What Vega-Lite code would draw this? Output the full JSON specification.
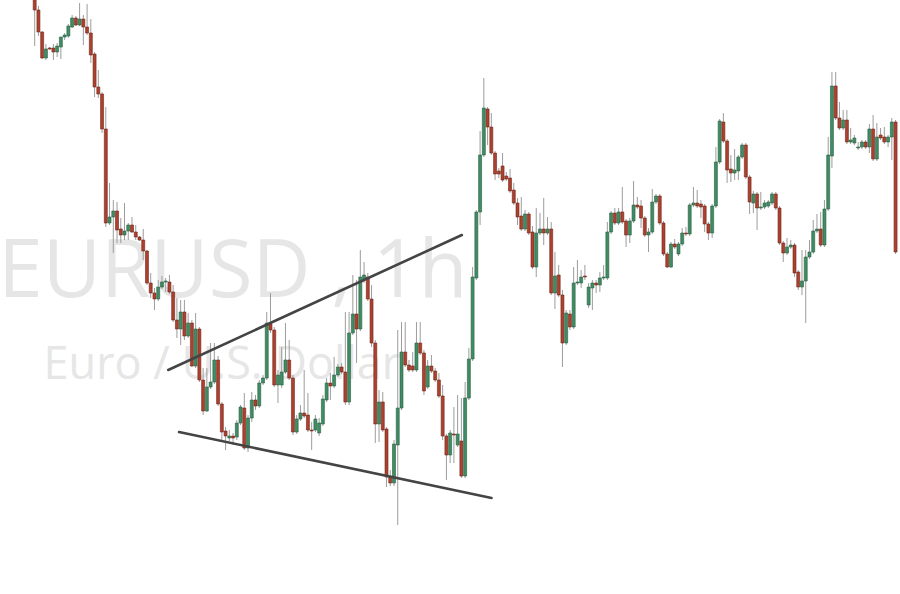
{
  "$schema": "https://vega.github.io/schema/vega-lite/v6.json",
  "width": 900,
  "height": 594,
  "autosize": {"type": "none"},
  "padding": 0,
  "background": "#ffffff",
  "config": {"view": {"stroke": null}},
  "datasets": {
    "candles": [
{"t":0,"o":1.1108,"h":1.1115,"l":1.1054,"c":1.1090},
{"t":1,"o":1.1090,"h":1.1094,"l":1.1064,"c":1.1068},
{"t":2,"o":1.1068,"h":1.1069,"l":1.1041,"c":1.1042},
{"t":3,"o":1.1042,"h":1.1056,"l":1.1040,"c":1.1051},
{"t":4,"o":1.1052,"h":1.1053,"l":1.1050,"c":1.1051},
{"t":5,"o":1.1052,"h":1.1056,"l":1.1040,"c":1.1048},
{"t":6,"o":1.1048,"h":1.1057,"l":1.1043,"c":1.1054},
{"t":7,"o":1.1053,"h":1.1063,"l":1.1041,"c":1.1063},
{"t":8,"o":1.1063,"h":1.1067,"l":1.1060,"c":1.1065},
{"t":9,"o":1.1064,"h":1.1076,"l":1.1062,"c":1.1074},
{"t":10,"o":1.1073,"h":1.1085,"l":1.1072,"c":1.1082},
{"t":11,"o":1.1082,"h":1.1084,"l":1.1074,"c":1.1075},
{"t":12,"o":1.1075,"h":1.1097,"l":1.1074,"c":1.1081},
{"t":13,"o":1.1081,"h":1.1085,"l":1.1055,"c":1.1073},
{"t":14,"o":1.1073,"h":1.1096,"l":1.1065,"c":1.1067},
{"t":15,"o":1.1067,"h":1.1081,"l":1.1037,"c":1.1045},
{"t":16,"o":1.1046,"h":1.1048,"l":1.1003,"c":1.1013},
{"t":17,"o":1.1013,"h":1.1030,"l":1.1002,"c":1.1006},
{"t":18,"o":1.1006,"h":1.1008,"l":1.0967,"c":1.0971},
{"t":19,"o":1.0971,"h":1.0993,"l":1.0873,"c":1.0877},
{"t":20,"o":1.0877,"h":1.0917,"l":1.0875,"c":1.0883},
{"t":21,"o":1.0883,"h":1.0900,"l":1.0847,"c":1.0889},
{"t":22,"o":1.0889,"h":1.0898,"l":1.0857,"c":1.0870},
{"t":23,"o":1.0871,"h":1.0882,"l":1.0857,"c":1.0865},
{"t":24,"o":1.0865,"h":1.0897,"l":1.0860,"c":1.0869},
{"t":25,"o":1.0869,"h":1.0877,"l":1.0860,"c":1.0875},
{"t":26,"o":1.0875,"h":1.0883,"l":1.0867,"c":1.0868},
{"t":27,"o":1.0868,"h":1.0875,"l":1.0860,"c":1.0863},
{"t":28,"o":1.0863,"h":1.0864,"l":1.0859,"c":1.0860},
{"t":29,"o":1.0860,"h":1.0871,"l":1.0840,"c":1.0849},
{"t":30,"o":1.0849,"h":1.0850,"l":1.0815,"c":1.0817},
{"t":31,"o":1.0817,"h":1.0827,"l":1.0802,"c":1.0807},
{"t":32,"o":1.0807,"h":1.0812,"l":1.0790,"c":1.0801},
{"t":33,"o":1.0801,"h":1.0820,"l":1.0799,"c":1.0813},
{"t":34,"o":1.0813,"h":1.0824,"l":1.0811,"c":1.0818},
{"t":35,"o":1.0818,"h":1.0822,"l":1.0808,"c":1.0819},
{"t":36,"o":1.0818,"h":1.0825,"l":1.0806,"c":1.0808},
{"t":37,"o":1.0808,"h":1.0815,"l":1.0778,"c":1.0780},
{"t":38,"o":1.0780,"h":1.0802,"l":1.0762,"c":1.0771},
{"t":39,"o":1.0771,"h":1.0800,"l":1.0755,"c":1.0788},
{"t":40,"o":1.0788,"h":1.0800,"l":1.0760,"c":1.0764},
{"t":41,"o":1.0764,"h":1.0787,"l":1.0762,"c":1.0777},
{"t":42,"o":1.0777,"h":1.0780,"l":1.0733,"c":1.0734},
{"t":43,"o":1.0734,"h":1.0787,"l":1.0732,"c":1.0771},
{"t":44,"o":1.0771,"h":1.0773,"l":1.0718,"c":1.0720},
{"t":45,"o":1.0720,"h":1.0732,"l":1.0685,"c":1.0689},
{"t":46,"o":1.0689,"h":1.0732,"l":1.0688,"c":1.0713},
{"t":47,"o":1.0713,"h":1.0757,"l":1.0711,"c":1.0718},
{"t":48,"o":1.0718,"h":1.0757,"l":1.0716,"c":1.0740},
{"t":49,"o":1.0740,"h":1.0744,"l":1.0694,"c":1.0696},
{"t":50,"o":1.0696,"h":1.0698,"l":1.0660,"c":1.0668},
{"t":51,"o":1.0669,"h":1.0673,"l":1.0650,"c":1.0664},
{"t":52,"o":1.0662,"h":1.0670,"l":1.0659,"c":1.0664},
{"t":53,"o":1.0664,"h":1.0667,"l":1.0655,"c":1.0662},
{"t":54,"o":1.0663,"h":1.0680,"l":1.0660,"c":1.0677},
{"t":55,"o":1.0677,"h":1.0695,"l":1.0675,"c":1.0693},
{"t":56,"o":1.0692,"h":1.0707,"l":1.0650,"c":1.0652},
{"t":57,"o":1.0652,"h":1.0685,"l":1.0648,"c":1.0682},
{"t":58,"o":1.0682,"h":1.0708,"l":1.0678,"c":1.0700},
{"t":59,"o":1.0700,"h":1.0705,"l":1.0690,"c":1.0694},
{"t":60,"o":1.0694,"h":1.0720,"l":1.0692,"c":1.0717},
{"t":61,"o":1.0717,"h":1.0725,"l":1.0715,"c":1.0722},
{"t":62,"o":1.0722,"h":1.0788,"l":1.0720,"c":1.0777},
{"t":63,"o":1.0776,"h":1.0807,"l":1.0767,"c":1.0770},
{"t":64,"o":1.0770,"h":1.0773,"l":1.0713,"c":1.0715},
{"t":65,"o":1.0715,"h":1.0730,"l":1.0697,"c":1.0725},
{"t":66,"o":1.0715,"h":1.0753,"l":1.0712,"c":1.0728},
{"t":67,"o":1.0728,"h":1.0777,"l":1.0726,"c":1.0740},
{"t":68,"o":1.0740,"h":1.0760,"l":1.0720,"c":1.0722},
{"t":69,"o":1.0722,"h":1.0725,"l":1.0665,"c":1.0668},
{"t":70,"o":1.0668,"h":1.0685,"l":1.0666,"c":1.0681},
{"t":71,"o":1.0681,"h":1.0695,"l":1.0679,"c":1.0687},
{"t":72,"o":1.0687,"h":1.0730,"l":1.0682,"c":1.0684},
{"t":73,"o":1.0685,"h":1.0707,"l":1.0668,"c":1.0670},
{"t":74,"o":1.0670,"h":1.0678,"l":1.0650,"c":1.0669},
{"t":75,"o":1.0670,"h":1.0685,"l":1.0668,"c":1.0681},
{"t":76,"o":1.0667,"h":1.0682,"l":1.0664,"c":1.0677},
{"t":77,"o":1.0676,"h":1.0705,"l":1.0674,"c":1.0701},
{"t":78,"o":1.0700,"h":1.0722,"l":1.0698,"c":1.0717},
{"t":79,"o":1.0717,"h":1.0727,"l":1.0700,"c":1.0714},
{"t":80,"o":1.0714,"h":1.0743,"l":1.0712,"c":1.0725},
{"t":81,"o":1.0725,"h":1.0736,"l":1.0723,"c":1.0733},
{"t":82,"o":1.0733,"h":1.0737,"l":1.0726,"c":1.0728},
{"t":83,"o":1.0728,"h":1.0788,"l":1.0695,"c":1.0698},
{"t":84,"o":1.0698,"h":1.0788,"l":1.0695,"c":1.0767},
{"t":85,"o":1.0767,"h":1.0825,"l":1.0765,"c":1.0786},
{"t":86,"o":1.0786,"h":1.0820,"l":1.0737,"c":1.0771},
{"t":87,"o":1.0771,"h":1.0850,"l":1.0769,"c":1.0823},
{"t":88,"o":1.0820,"h":1.0838,"l":1.0817,"c":1.0825},
{"t":89,"o":1.0823,"h":1.0827,"l":1.0799,"c":1.0801},
{"t":90,"o":1.0801,"h":1.0815,"l":1.0753,"c":1.0757},
{"t":91,"o":1.0757,"h":1.0760,"l":1.0657,"c":1.0676},
{"t":92,"o":1.0676,"h":1.0710,"l":1.0658,"c":1.0698},
{"t":93,"o":1.0698,"h":1.0708,"l":1.0668,"c":1.0670},
{"t":94,"o":1.0671,"h":1.0673,"l":1.0613,"c":1.0623},
{"t":95,"o":1.0623,"h":1.0630,"l":1.0614,"c":1.0617},
{"t":96,"o":1.0617,"h":1.0660,"l":1.0614,"c":1.0656},
{"t":97,"o":1.0655,"h":1.0770,"l":1.0575,"c":1.0692},
{"t":98,"o":1.0692,"h":1.0778,"l":1.0690,"c":1.0748},
{"t":99,"o":1.0748,"h":1.0778,"l":1.0733,"c":1.0735},
{"t":100,"o":1.0735,"h":1.0740,"l":1.0728,"c":1.0730},
{"t":101,"o":1.0734,"h":1.0748,"l":1.0728,"c":1.0730},
{"t":102,"o":1.0730,"h":1.0778,"l":1.0728,"c":1.0757},
{"t":103,"o":1.0757,"h":1.0778,"l":1.0745,"c":1.0747},
{"t":104,"o":1.0747,"h":1.0750,"l":1.0705,"c":1.0709},
{"t":105,"o":1.0713,"h":1.0740,"l":1.0711,"c":1.0734},
{"t":106,"o":1.0734,"h":1.0745,"l":1.0727,"c":1.0729},
{"t":107,"o":1.0729,"h":1.0732,"l":1.0718,"c":1.0720},
{"t":108,"o":1.0720,"h":1.0727,"l":1.0702,"c":1.0704},
{"t":109,"o":1.0704,"h":1.0715,"l":1.0660,"c":1.0664},
{"t":110,"o":1.0664,"h":1.0666,"l":1.0620,"c":1.0645},
{"t":111,"o":1.0645,"h":1.0670,"l":1.0637,"c":1.0667},
{"t":112,"o":1.0666,"h":1.0693,"l":1.0637,"c":1.0665},
{"t":113,"o":1.0655,"h":1.0705,"l":1.0653,"c":1.0666},
{"t":114,"o":1.0659,"h":1.0702,"l":1.0622,"c":1.0624},
{"t":115,"o":1.0624,"h":1.0718,"l":1.0622,"c":1.0702},
{"t":116,"o":1.0702,"h":1.0752,"l":1.0700,"c":1.0741},
{"t":117,"o":1.0741,"h":1.0833,"l":1.0739,"c":1.0823},
{"t":118,"o":1.0822,"h":1.0890,"l":1.0820,"c":1.0888},
{"t":119,"o":1.0888,"h":1.0969,"l":1.0875,"c":1.0945},
{"t":120,"o":1.0945,"h":1.1022,"l":1.0943,"c":1.0992},
{"t":121,"o":1.0991,"h":1.0993,"l":1.0955,"c":1.0973},
{"t":122,"o":1.0973,"h":1.0987,"l":1.0945,"c":1.0947},
{"t":123,"o":1.0947,"h":1.0949,"l":1.0920,"c":1.0926},
{"t":124,"o":1.0929,"h":1.0932,"l":1.0922,"c":1.0926},
{"t":125,"o":1.0934,"h":1.0947,"l":1.0918,"c":1.0920},
{"t":126,"o":1.0924,"h":1.0928,"l":1.0919,"c":1.0921},
{"t":127,"o":1.0922,"h":1.0931,"l":1.0907,"c":1.0909},
{"t":128,"o":1.0910,"h":1.0917,"l":1.0895,"c":1.0897},
{"t":129,"o":1.0897,"h":1.0902,"l":1.0875,"c":1.0883},
{"t":130,"o":1.0884,"h":1.0903,"l":1.0869,"c":1.0871},
{"t":131,"o":1.0871,"h":1.0890,"l":1.0869,"c":1.0886},
{"t":132,"o":1.0886,"h":1.0888,"l":1.0865,"c":1.0867},
{"t":133,"o":1.0868,"h":1.0874,"l":1.0831,"c":1.0833},
{"t":134,"o":1.0833,"h":1.0892,"l":1.0823,"c":1.0867},
{"t":135,"o":1.0867,"h":1.0887,"l":1.0865,"c":1.0871},
{"t":136,"o":1.0871,"h":1.0902,"l":1.0855,"c":1.0867},
{"t":137,"o":1.0867,"h":1.0883,"l":1.0865,"c":1.0871},
{"t":138,"o":1.0871,"h":1.0878,"l":1.0805,"c":1.0807},
{"t":139,"o":1.0807,"h":1.0848,"l":1.0791,"c":1.0824},
{"t":140,"o":1.0825,"h":1.0835,"l":1.0803,"c":1.0805},
{"t":141,"o":1.0805,"h":1.0810,"l":1.0733,"c":1.0757},
{"t":142,"o":1.0757,"h":1.0790,"l":1.0755,"c":1.0787},
{"t":143,"o":1.0786,"h":1.0790,"l":1.0770,"c":1.0773},
{"t":144,"o":1.0773,"h":1.0833,"l":1.0771,"c":1.0817},
{"t":145,"o":1.0817,"h":1.0840,"l":1.0815,"c":1.0818},
{"t":146,"o":1.0817,"h":1.0830,"l":1.0812,"c":1.0823},
{"t":147,"o":1.0824,"h":1.0835,"l":1.0820,"c":1.0823},
{"t":148,"o":1.0795,"h":1.0817,"l":1.0792,"c":1.0813},
{"t":149,"o":1.0812,"h":1.0820,"l":1.0790,"c":1.0817},
{"t":150,"o":1.0817,"h":1.0820,"l":1.0807,"c":1.0815},
{"t":151,"o":1.0815,"h":1.0828,"l":1.0808,"c":1.0822},
{"t":152,"o":1.0822,"h":1.0835,"l":1.0820,"c":1.0823},
{"t":153,"o":1.0822,"h":1.0878,"l":1.0820,"c":1.0868},
{"t":154,"o":1.0868,"h":1.0889,"l":1.0866,"c":1.0887},
{"t":155,"o":1.0887,"h":1.0892,"l":1.0875,"c":1.0877},
{"t":156,"o":1.0877,"h":1.0892,"l":1.0875,"c":1.0888},
{"t":157,"o":1.0888,"h":1.0913,"l":1.0876,"c":1.0878},
{"t":158,"o":1.0879,"h":1.0881,"l":1.0853,"c":1.0865},
{"t":159,"o":1.0865,"h":1.0882,"l":1.0857,"c":1.0879},
{"t":160,"o":1.0879,"h":1.0919,"l":1.0877,"c":1.0895},
{"t":161,"o":1.0895,"h":1.0903,"l":1.0891,"c":1.0893},
{"t":162,"o":1.0894,"h":1.0900,"l":1.0872,"c":1.0882},
{"t":163,"o":1.0882,"h":1.0884,"l":1.0863,"c":1.0865},
{"t":164,"o":1.0865,"h":1.0872,"l":1.0848,"c":1.0868},
{"t":165,"o":1.0868,"h":1.0911,"l":1.0866,"c":1.0898},
{"t":166,"o":1.0898,"h":1.0906,"l":1.0896,"c":1.0904},
{"t":167,"o":1.0904,"h":1.0906,"l":1.0875,"c":1.0877},
{"t":168,"o":1.0877,"h":1.0879,"l":1.0844,"c":1.0846},
{"t":169,"o":1.0846,"h":1.0848,"l":1.0832,"c":1.0833},
{"t":170,"o":1.0833,"h":1.0858,"l":1.0832,"c":1.0856},
{"t":171,"o":1.0856,"h":1.0861,"l":1.0851,"c":1.0853},
{"t":172,"o":1.0846,"h":1.0858,"l":1.0844,"c":1.0856},
{"t":173,"o":1.0856,"h":1.0872,"l":1.0854,"c":1.0867},
{"t":174,"o":1.0867,"h":1.0873,"l":1.0864,"c":1.0866},
{"t":175,"o":1.0866,"h":1.0897,"l":1.0864,"c":1.0895},
{"t":176,"o":1.0895,"h":1.0913,"l":1.0893,"c":1.0897},
{"t":177,"o":1.0897,"h":1.0910,"l":1.0892,"c":1.0894},
{"t":178,"o":1.0896,"h":1.0900,"l":1.0882,"c":1.0893},
{"t":179,"o":1.0894,"h":1.0896,"l":1.0868,"c":1.0876},
{"t":180,"o":1.0876,"h":1.0878,"l":1.0860,"c":1.0867},
{"t":181,"o":1.0867,"h":1.0896,"l":1.0862,"c":1.0894},
{"t":182,"o":1.0894,"h":1.0953,"l":1.0892,"c":1.0938},
{"t":183,"o":1.0938,"h":1.0981,"l":1.0936,"c":1.0979},
{"t":184,"o":1.0978,"h":1.0987,"l":1.0957,"c":1.0959},
{"t":185,"o":1.0959,"h":1.0961,"l":1.0917,"c":1.0930},
{"t":186,"o":1.0931,"h":1.0945,"l":1.0918,"c":1.0927},
{"t":187,"o":1.0927,"h":1.0951,"l":1.0920,"c":1.0930},
{"t":188,"o":1.0929,"h":1.0945,"l":1.0920,"c":1.0943},
{"t":189,"o":1.0943,"h":1.0957,"l":1.0941,"c":1.0955},
{"t":190,"o":1.0955,"h":1.0957,"l":1.0921,"c":1.0923},
{"t":191,"o":1.0923,"h":1.0925,"l":1.0886,"c":1.0898},
{"t":192,"o":1.0897,"h":1.0909,"l":1.0887,"c":1.0906},
{"t":193,"o":1.0906,"h":1.0908,"l":1.0870,"c":1.0892},
{"t":194,"o":1.0892,"h":1.0908,"l":1.0890,"c":1.0893},
{"t":195,"o":1.0893,"h":1.0900,"l":1.0891,"c":1.0897},
{"t":196,"o":1.0894,"h":1.0900,"l":1.0892,"c":1.0898},
{"t":197,"o":1.0897,"h":1.0908,"l":1.0895,"c":1.0906},
{"t":198,"o":1.0906,"h":1.0908,"l":1.0890,"c":1.0892},
{"t":199,"o":1.0892,"h":1.0894,"l":1.0855,"c":1.0857},
{"t":200,"o":1.0857,"h":1.0859,"l":1.0838,"c":1.0847},
{"t":201,"o":1.0847,"h":1.0862,"l":1.0845,"c":1.0853},
{"t":202,"o":1.0853,"h":1.0860,"l":1.0851,"c":1.0855},
{"t":203,"o":1.0855,"h":1.0857,"l":1.0823,"c":1.0827},
{"t":204,"o":1.0828,"h":1.0830,"l":1.0810,"c":1.0813},
{"t":205,"o":1.0813,"h":1.0850,"l":1.0805,"c":1.0819},
{"t":206,"o":1.0819,"h":1.0850,"l":1.0777,"c":1.0843},
{"t":207,"o":1.0843,"h":1.0860,"l":1.0841,"c":1.0848},
{"t":208,"o":1.0848,"h":1.0880,"l":1.0846,"c":1.0869},
{"t":209,"o":1.0869,"h":1.0886,"l":1.0867,"c":1.0871},
{"t":210,"o":1.0871,"h":1.0888,"l":1.0853,"c":1.0855},
{"t":211,"o":1.0855,"h":1.0900,"l":1.0853,"c":1.0891},
{"t":212,"o":1.0891,"h":1.0963,"l":1.0889,"c":1.0945},
{"t":213,"o":1.0944,"h":1.1028,"l":1.0932,"c":1.1014},
{"t":214,"o":1.1014,"h":1.1028,"l":1.0980,"c":1.0982},
{"t":215,"o":1.0982,"h":1.0998,"l":1.0970,"c":1.0972},
{"t":216,"o":1.0972,"h":1.0990,"l":1.0970,"c":1.0980},
{"t":217,"o":1.0980,"h":1.0990,"l":1.0956,"c":1.0958},
{"t":218,"o":1.0958,"h":1.0972,"l":1.0956,"c":1.0960},
{"t":219,"o":1.0957,"h":1.0965,"l":1.0955,"c":1.0962},
{"t":220,"o":1.0952,"h":1.0958,"l":1.0950,"c":1.0953},
{"t":221,"o":1.0953,"h":1.0960,"l":1.0951,"c":1.0958},
{"t":222,"o":1.0958,"h":1.0960,"l":1.0951,"c":1.0953},
{"t":223,"o":1.0953,"h":1.0976,"l":1.0947,"c":1.0971},
{"t":224,"o":1.0971,"h":1.0985,"l":1.0939,"c":1.0941},
{"t":225,"o":1.0941,"h":1.0977,"l":1.0939,"c":1.0963},
{"t":226,"o":1.0965,"h":1.0972,"l":1.0960,"c":1.0962},
{"t":227,"o":1.0963,"h":1.0973,"l":1.0956,"c":1.0958},
{"t":228,"o":1.0958,"h":1.0965,"l":1.0953,"c":1.0963},
{"t":229,"o":1.0963,"h":1.0982,"l":1.0940,"c":1.0978},
{"t":230,"o":1.0978,"h":1.0980,"l":1.0846,"c":1.0848}
    ],
    "trend": [
      {"line": "upper", "t": 35.67, "p": 1.0730},
      {"line": "upper", "t": 114.13, "p": 1.0865},
      {"line": "lower", "t": 38.57, "p": 1.0668},
      {"line": "lower", "t": 122.06, "p": 1.0602}
    ],
    "watermark": [
      {"label": "EURUSD , 1h", "t": -9.75, "p": 1.0803, "kind": "symbol"},
      {"label": "Euro / U.S. Dollar", "t": 2.38, "p": 1.0721, "kind": "name"}
    ]
  },
  "layer": [
    {
      "data": {"name": "watermark"},
      "transform": [{"filter": "datum.kind == 'symbol'"}],
      "mark": {"type": "text", "align": "left", "baseline": "alphabetic", "font": "Open Sans", "fontSize": 80, "color": "#e6e6e6"},
      "encoding": {
        "x": {"field": "t", "type": "quantitative", "scale": {"domain": [-7.93, 229.85], "nice": false, "zero": false}, "axis": null},
        "y": {"field": "p", "type": "quantitative", "scale": {"domain": [1.0506, 1.11], "nice": false, "zero": false}, "axis": null},
        "text": {"field": "label"}
      }
    },
    {
      "data": {"name": "watermark"},
      "transform": [{"filter": "datum.kind == 'name'"}],
      "mark": {"type": "text", "align": "left", "baseline": "alphabetic", "font": "Open Sans", "fontSize": 45, "color": "#e6e6e6"},
      "encoding": {
        "x": {"field": "t", "type": "quantitative"},
        "y": {"field": "p", "type": "quantitative"},
        "text": {"field": "label"}
      }
    },
    {
      "data": {"name": "candles"},
      "mark": {"type": "rule", "color": "#9c9c9c", "strokeWidth": 1, "clip": true},
      "encoding": {
        "x": {"field": "t", "type": "quantitative"},
        "y": {"field": "l", "type": "quantitative"},
        "y2": {"field": "h"}
      }
    },
    {
      "data": {"name": "candles"},
      "mark": {"type": "bar", "size": 3, "strokeWidth": 0.6, "clip": true},
      "encoding": {
        "x": {"field": "t", "type": "quantitative"},
        "y": {"field": "o", "type": "quantitative"},
        "y2": {"field": "c"},
        "color": {"condition": {"test": "datum.c >= datum.o", "value": "#3f8d62"}, "value": "#ac412f"},
        "stroke": {"condition": {"test": "datum.c >= datum.o", "value": "#2a5e43"}, "value": "#722519"}
      }
    },
    {
      "data": {"name": "trend"},
      "mark": {"type": "line", "color": "#444444", "strokeWidth": 2.6, "strokeCap": "round"},
      "encoding": {
        "x": {"field": "t", "type": "quantitative"},
        "y": {"field": "p", "type": "quantitative"},
        "detail": {"field": "line"}
      }
    }
  ]
}
